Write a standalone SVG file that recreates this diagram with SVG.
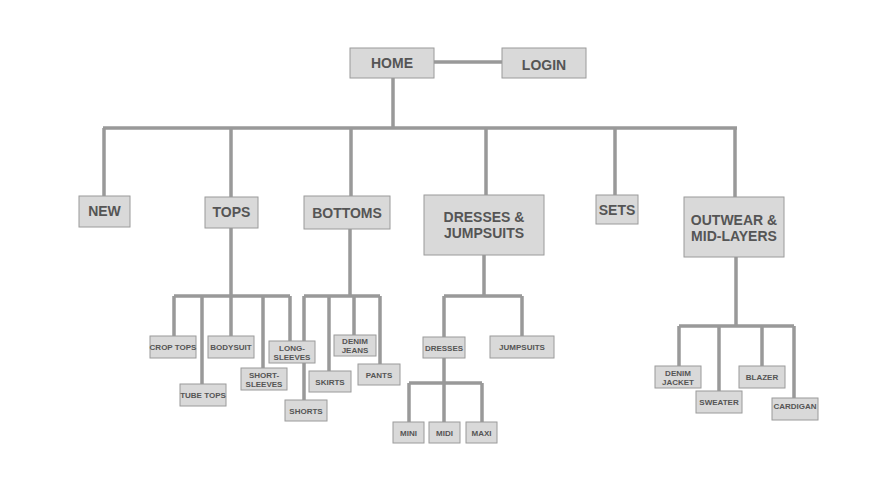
<svg xmlns="http://www.w3.org/2000/svg" width="869" height="480" viewBox="0 0 869 480">
<style>
.n rect{fill:#d9d9d9;stroke:#9a9a9a;stroke-width:1}
.n text{font-family:"Liberation Sans",Arial,sans-serif;font-weight:bold;fill:#555;text-anchor:middle}
.b text{font-size:14px}
.s text{font-size:8px}
#c path{stroke:#999;stroke-width:3.5;fill:none}
</style>
<rect width="869" height="480" fill="#fff"/>
<g id="c">
<path d="M434 62H502M393 78V128M103 128H737M104 128V196M231 128V197M351 128V196M486 128V195M615 128V195M735 128V197"/>
<path d="M231 228V296M174 296H290M174 296V336M202 296V384M231 296V336M263 296V368M290 296V341"/>
<path d="M350 229V296M304 296H380M304 296V400M329 296V371M354 296V335M380 296V364"/>
<path d="M484 255V296M444 296H522M444 296V337M522 296V336M444 358V383M409 383H482M409 383V422M444 383V422M482 383V422"/>
<path d="M736 257V326M679 326H794M679 326V366M719 326V391M762 326V366M794 326V398"/>
</g>
<g id="home" class="n b"><rect x="350" y="48" width="84" height="30"/><text x="392" y="68">HOME</text></g>
<g id="login" class="n b"><rect x="502" y="48" width="84" height="30"/><text x="544" y="70">LOGIN</text></g>
<g id="new" class="n b"><rect x="79" y="196" width="51" height="31"/><text x="104.5" y="216">NEW</text></g>
<g id="tops" class="n b"><rect x="205" y="197" width="53" height="31"/><text x="231.5" y="217">TOPS</text></g>
<g id="bottoms" class="n b"><rect x="304" y="196" width="86" height="33"/><text x="347" y="218">BOTTOMS</text></g>
<g id="dresses-jumpsuits" class="n b"><rect x="424" y="195" width="120" height="60"/><text x="484" y="222">DRESSES &amp;</text><text x="484" y="238">JUMPSUITS</text></g>
<g id="sets" class="n b"><rect x="596" y="195" width="42" height="29"/><text x="617" y="215">SETS</text></g>
<g id="outwear" class="n b"><rect x="684" y="197" width="100" height="60"/><text x="734" y="225">OUTWEAR &amp;</text><text x="734" y="241">MID-LAYERS</text></g>
<g id="crop-tops" class="n s"><rect x="150" y="336" width="46" height="22"/><text x="173" y="350">CROP TOPS</text></g>
<g id="tube-tops" class="n s"><rect x="180" y="384" width="46" height="22"/><text x="203" y="398">TUBE TOPS</text></g>
<g id="bodysuit" class="n s"><rect x="208" y="336" width="46" height="22"/><text x="231" y="350">BODYSUIT</text></g>
<g id="short-sleeves" class="n s"><rect x="241" y="368" width="46" height="22"/><text x="264" y="378">SHORT-</text><text x="264" y="387">SLEEVES</text></g>
<g id="long-sleeves" class="n s"><rect x="269" y="341" width="46" height="22"/><text x="292" y="351">LONG-</text><text x="292" y="360">SLEEVES</text></g>
<g id="shorts" class="n s"><rect x="285" y="400" width="42" height="21"/><text x="306" y="414">SHORTS</text></g>
<g id="skirts" class="n s"><rect x="309" y="371" width="42" height="21"/><text x="330" y="385">SKIRTS</text></g>
<g id="denim-jeans" class="n s"><rect x="334" y="335" width="42" height="21"/><text x="355" y="344">DENIM</text><text x="355" y="353">JEANS</text></g>
<g id="pants" class="n s"><rect x="358" y="364" width="42" height="21"/><text x="379" y="378">PANTS</text></g>
<g id="dresses" class="n s"><rect x="423" y="337" width="42" height="21"/><text x="444" y="351">DRESSES</text></g>
<g id="jumpsuits" class="n s"><rect x="490" y="336" width="64" height="22"/><text x="522" y="350">JUMPSUITS</text></g>
<g id="mini" class="n s"><rect x="393" y="422" width="31" height="21"/><text x="408.5" y="436">MINI</text></g>
<g id="midi" class="n s"><rect x="429" y="422" width="31" height="21"/><text x="444.5" y="436">MIDI</text></g>
<g id="maxi" class="n s"><rect x="466" y="422" width="31" height="21"/><text x="481.5" y="436">MAXI</text></g>
<g id="denim-jacket" class="n s"><rect x="655" y="366" width="46" height="22"/><text x="678" y="376">DENIM</text><text x="678" y="385">JACKET</text></g>
<g id="sweater" class="n s"><rect x="696" y="391" width="46" height="22"/><text x="719" y="405">SWEATER</text></g>
<g id="blazer" class="n s"><rect x="739" y="366" width="46" height="22"/><text x="762" y="380">BLAZER</text></g>
<g id="cardigan" class="n s"><rect x="772" y="398" width="46" height="22"/><text x="795" y="409">CARDIGAN</text></g>
</svg>
